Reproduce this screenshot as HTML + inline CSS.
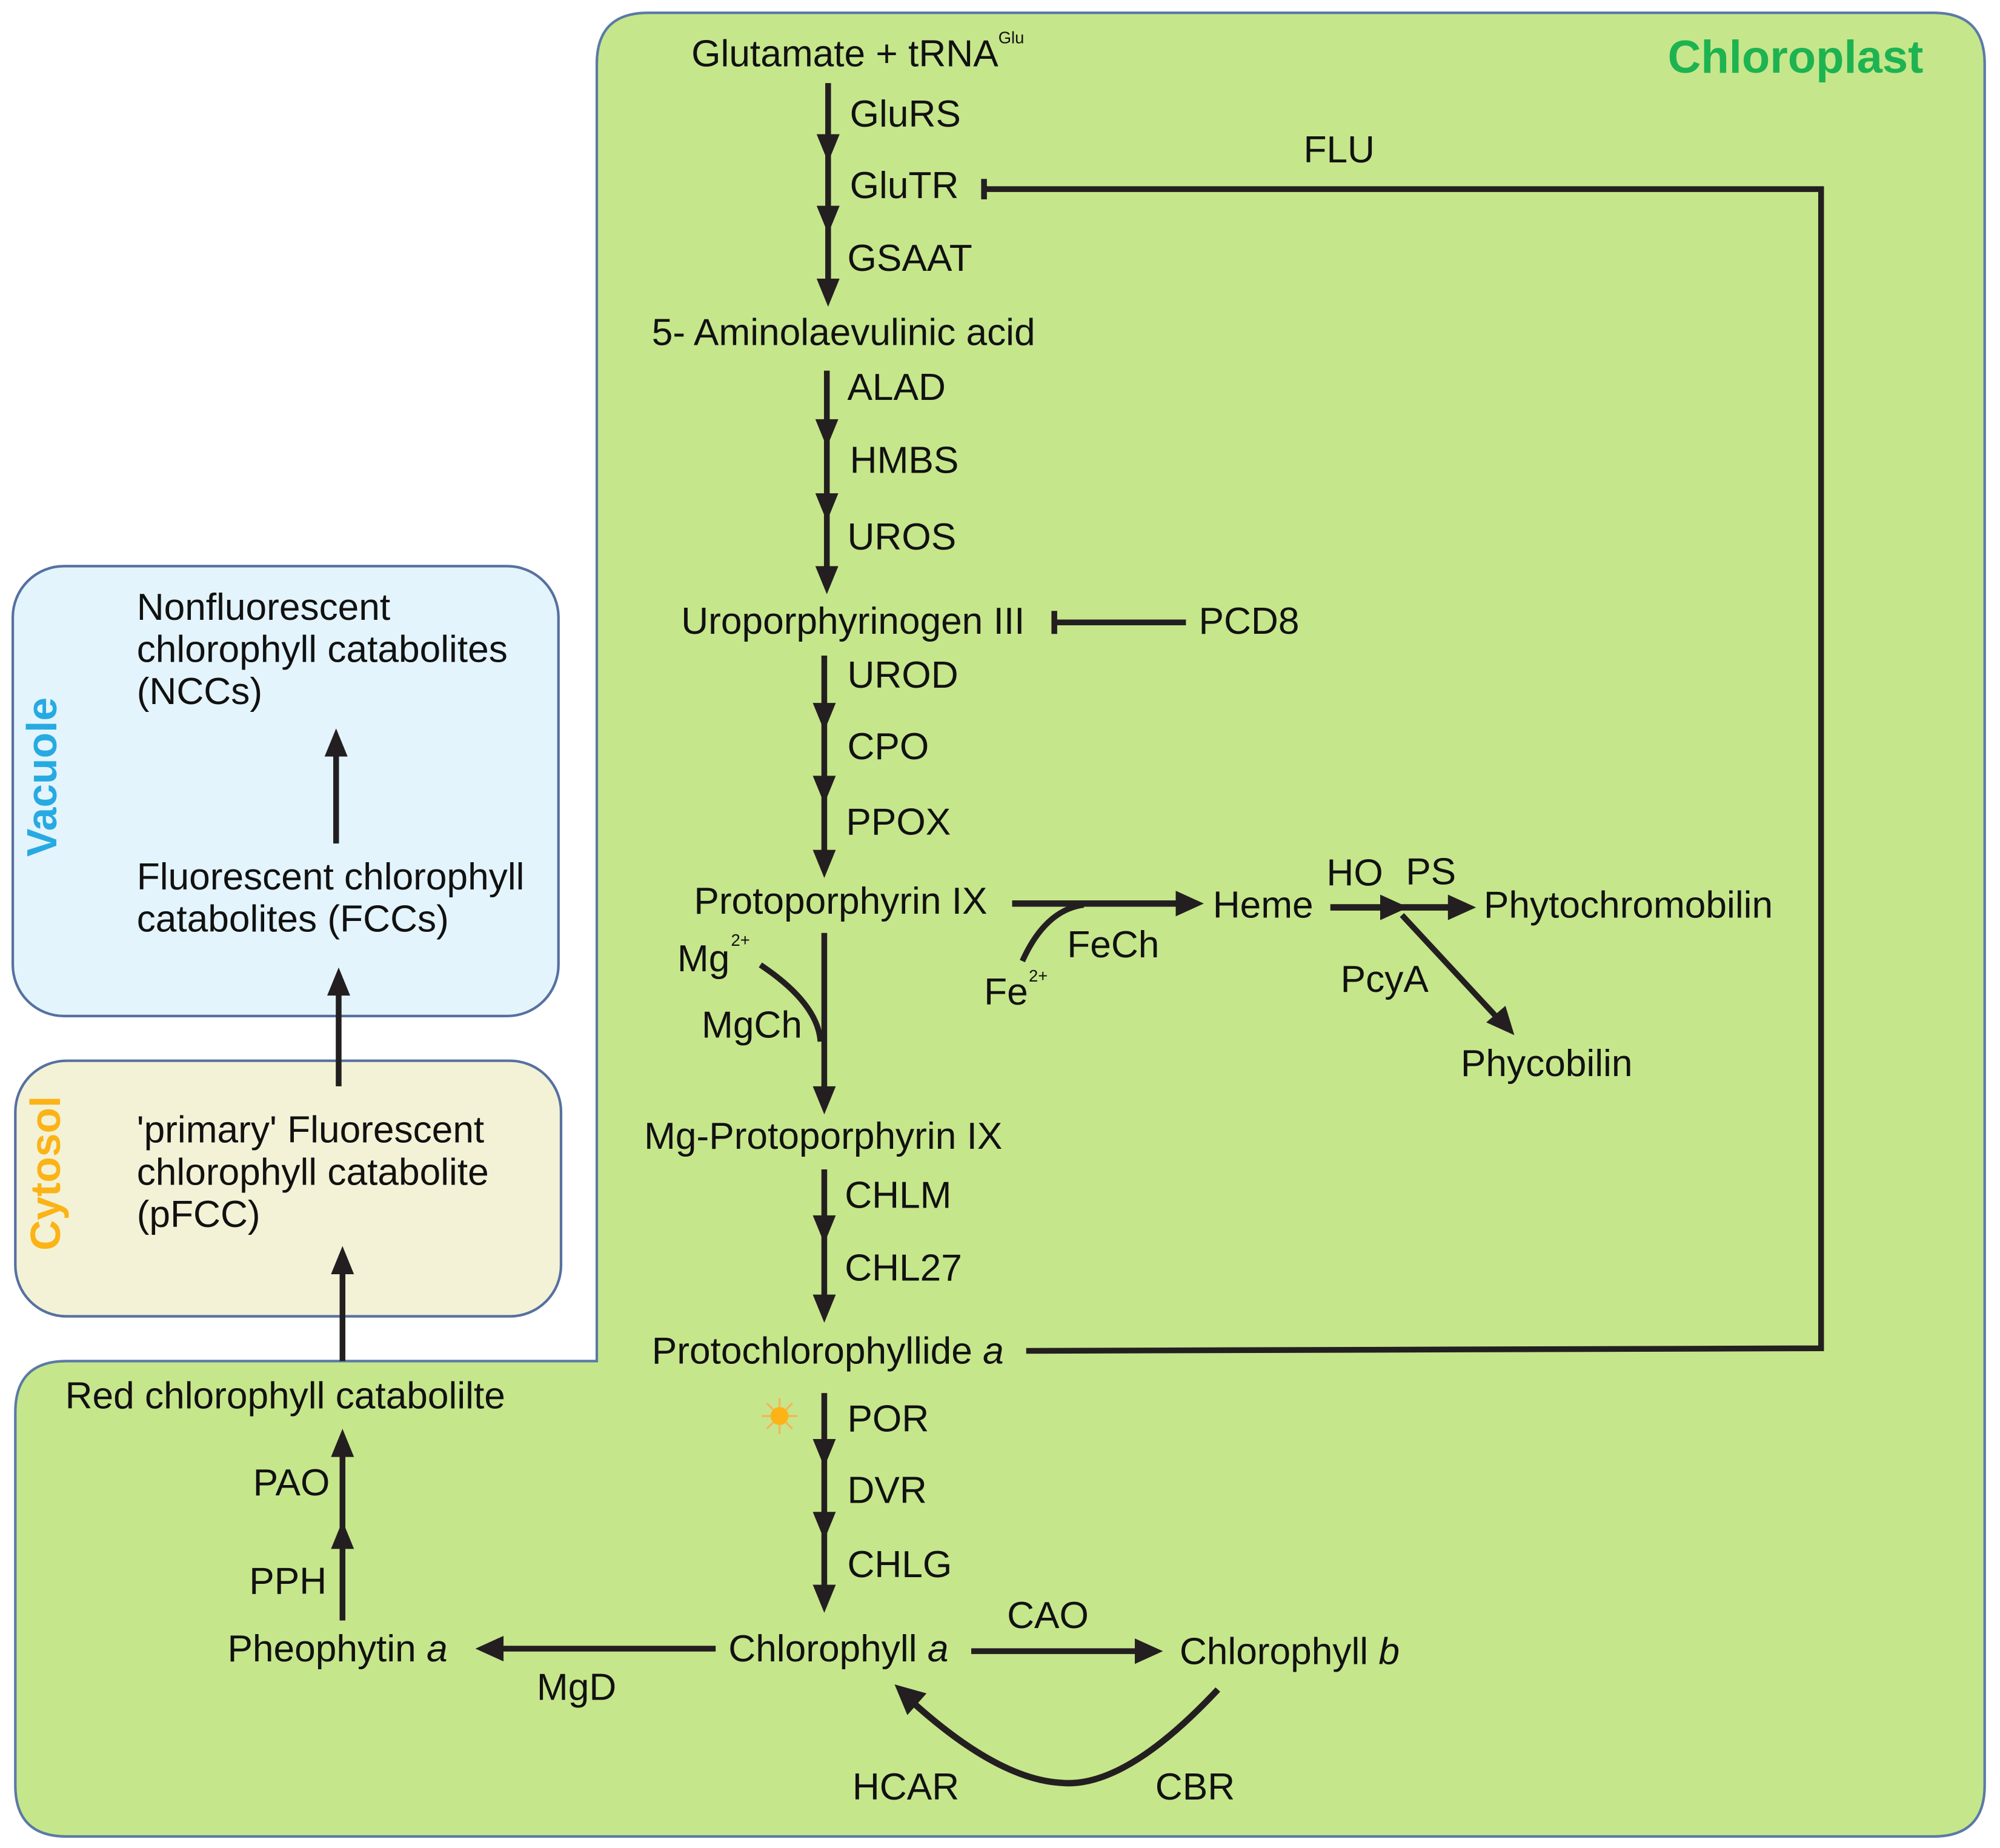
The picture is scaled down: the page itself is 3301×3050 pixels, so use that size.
<!DOCTYPE html>
<html><head><meta charset="utf-8"><style>html,body{margin:0;padding:0;background:#fff}svg{display:block}</style></head>
<body>
<svg width="3301" height="3050" viewBox="0 0 1565 1446" xmlns="http://www.w3.org/2000/svg" font-family="Liberation Sans, Arial, sans-serif" font-size="29.5" fill="#111">
<rect width="1565" height="1446" fill="#fff"/>
<path d="M507,10 H1513 Q1553,10 1553,50 V1397 Q1553,1437 1513,1437 H52 Q12,1437 12,1397 V1105 Q12,1065 52,1065 H467 V50 Q467,10 507,10 Z" fill="#c6e68b" stroke="#5a7aa6" stroke-width="2"/>
<rect x="10" y="443" width="427" height="352" rx="40" fill="#e3f4fc" stroke="#5670a0" stroke-width="2"/>
<rect x="12" y="830" width="427" height="200" rx="40" fill="#f3f2d6" stroke="#5670a0" stroke-width="2"/>
<text transform="translate(44,608) rotate(-90)" text-anchor="middle" font-weight="bold" font-size="33" fill="#27aae1">Vacuole</text>
<text transform="translate(47,918) rotate(-90)" text-anchor="middle" font-weight="bold" font-size="33" fill="#fbb316">Cytosol</text>
<text x="1305" y="57" font-weight="bold" font-size="36" fill="#1db350">Chloroplast</text>

<g stroke="#231f20" stroke-width="4.5" fill="none">
<line x1="648" y1="65" x2="648" y2="230"/>
<line x1="647" y1="290" x2="647" y2="455"/>
<line x1="645" y1="513" x2="645" y2="677"/>
<line x1="645" y1="730" x2="645" y2="862"/>
<line x1="645" y1="915" x2="645" y2="1025"/>
<line x1="645" y1="1090" x2="645" y2="1252"/>
<path d="M595,755 Q640,785 642,815"/>
<line x1="792" y1="707" x2="930" y2="707" stroke-width="5"/>
<path d="M800,752 Q818,712 848,708"/>
<line x1="1041" y1="710" x2="1140" y2="710" stroke-width="5"/>
<line x1="1097" y1="716" x2="1175" y2="800"/>
<line x1="928" y1="487" x2="825" y2="487"/>
<line x1="825" y1="478" x2="825" y2="496"/>
<polyline points="803,1057 1425,1055 1425,148 770,148"/>
<line x1="770" y1="140" x2="770" y2="156"/>
<line x1="760" y1="1292" x2="895" y2="1292"/>
<line x1="560" y1="1290" x2="388" y2="1290"/>
<path d="M953,1322 Q880,1400 830,1395 Q780,1392 712,1330" stroke-width="5"/>
<line x1="268" y1="1268" x2="268" y2="1135"/>
<line x1="268" y1="1065" x2="268" y2="992"/>
<line x1="265" y1="850" x2="265" y2="774"/>
<line x1="263" y1="660" x2="263" y2="587"/>
</g>
<g fill="#231f20">
<polygon points="639,105 657,105 648,127"/><polygon points="639,161 657,161 648,183"/><polygon points="639,218 657,218 648,240"/>
<polygon points="638,328 656,328 647,350"/><polygon points="638,386 656,386 647,408"/><polygon points="638,443 656,443 647,465"/>
<polygon points="636,550 654,550 645,572"/><polygon points="636,607 654,607 645,629"/><polygon points="636,665 654,665 645,687"/>
<polygon points="636,850 654,850 645,872"/>
<polygon points="636,951 654,951 645,973"/><polygon points="636,1013 654,1013 645,1035"/>
<polygon points="636,1126 654,1126 645,1148"/><polygon points="636,1183 654,1183 645,1205"/><polygon points="636,1240 654,1240 645,1262"/>
<polygon points="920,697 920,717 942,707"/>
<polygon points="1080,700 1080,720 1102,710"/><polygon points="1133,700 1133,720 1155,710"/>
<polygon points="1163,800 1178,787 1185,810"/>
<polygon points="888,1282 888,1302 910,1292"/>
<polygon points="394,1280 394,1300 372,1290"/>
<polygon points="700,1318 725,1325 710,1342"/>
<polygon points="259,1140 277,1140 268,1118"/><polygon points="259,1212 277,1212 268,1190"/>
<polygon points="259,997 277,997 268,975"/>
<polygon points="256,779 274,779 265,757"/>
<polygon points="254,592 272,592 263,570"/>
</g>
<g stroke="#f7b35a" stroke-width="1.5">
<line x1="596" y1="1108" x2="624" y2="1108"/><line x1="610" y1="1094" x2="610" y2="1122"/>
<line x1="600" y1="1098" x2="620" y2="1118"/><line x1="620" y1="1098" x2="600" y2="1118"/>
</g>
<circle cx="610" cy="1108" r="7" fill="#fbb316"/>

<text x="541" y="52">Glutamate + tRNA<tspan font-size="13" dy="-18">Glu</tspan></text>
<text x="665" y="99">GluRS</text><text x="665" y="155">GluTR</text><text x="663" y="212">GSAAT</text>
<text x="510" y="270">5- Aminolaevulinic acid</text>
<text x="663" y="313">ALAD</text><text x="665" y="370">HMBS</text><text x="663" y="430">UROS</text>
<text x="533" y="496">Uroporphyrinogen III</text><text x="938" y="496">PCD8</text>
<text x="663" y="538">UROD</text><text x="663" y="594">CPO</text><text x="662" y="653">PPOX</text>
<text x="543" y="715">Protoporphyrin IX</text>
<text x="530" y="760">Mg</text><text x="572" y="740" font-size="13">2+</text>
<text x="549" y="812">MgCh</text>
<text x="835" y="749">FeCh</text>
<text x="770" y="786">Fe</text><text x="805" y="768" font-size="13">2+</text>
<text x="949" y="718">Heme</text>
<text x="1038" y="693">HO</text><text x="1100" y="692">PS</text>
<text x="1161" y="718">Phytochromobilin</text>
<text x="1049" y="776">PcyA</text>
<text x="1143" y="842">Phycobilin</text>
<text x="504" y="899">Mg-Protoporphyrin IX</text>
<text x="661" y="945">CHLM</text><text x="661" y="1002">CHL27</text>
<text x="510" y="1067">Protochlorophyllide <tspan font-style="italic">a</tspan></text>
<text x="1020" y="127">FLU</text>
<text x="663" y="1120">POR</text><text x="663" y="1176">DVR</text><text x="663" y="1234">CHLG</text>
<text x="570" y="1300">Chlorophyll <tspan font-style="italic">a</tspan></text>
<text x="788" y="1274">CAO</text>
<text x="923" y="1302">Chlorophyll <tspan font-style="italic">b</tspan></text>
<text x="178" y="1300">Pheophytin <tspan font-style="italic">a</tspan></text>
<text x="420" y="1330">MgD</text>
<text x="667" y="1408">HCAR</text><text x="904" y="1408">CBR</text>
<text x="198" y="1170">PAO</text><text x="195" y="1247">PPH</text>
<text x="51" y="1102">Red chlorophyll catabolilte</text>
<text x="107" y="894">'primary' Fluorescent</text>
<text x="107" y="927">chlorophyll catabolite</text>
<text x="107" y="960">(pFCC)</text>
<text x="107" y="696">Fluorescent chlorophyll</text>
<text x="107" y="729">catabolites (FCCs)</text>
<text x="107" y="485">Nonfluorescent</text>
<text x="107" y="518">chlorophyll catabolites</text>
<text x="107" y="551">(NCCs)</text>
</svg>
</body></html>
